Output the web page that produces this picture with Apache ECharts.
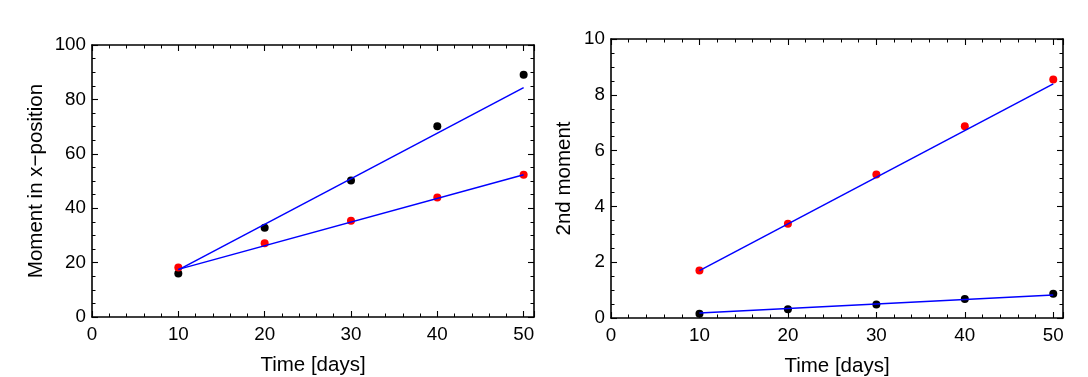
<!DOCTYPE html>
<html>
<head>
<meta charset="utf-8">
<script src="https://cdn.jsdelivr.net/npm/echarts@6/dist/echarts.min.js"></script>
<style>
html,body{margin:0;padding:0;background:#fff;}
#chart{width:1088px;height:377px;}
</style>
</head>
<body>
<div id="chart"></div>
<script>
// ---- data ----
const times = [10, 20, 30, 40, 50];
// Left panel: moment in x-position
const leftBlack = [16.0, 32.8, 50.2, 70.1, 89.1];
const leftRed = [18.2, 27.1, 35.4, 43.9, 52.3];
const fitX = [10, 50];
const leftBlackFit = [17.3, 84.3];
const leftRedFit = [17.5, 52.3];
// Right panel: 2nd moment
const rightRed = [1.70, 3.38, 5.14, 6.87, 8.55];
const rightBlack = [0.15, 0.31, 0.48, 0.68, 0.87];
const rightRedFit = [1.70, 8.39];
const rightBlackFit = [0.18, 0.82];
// axis labels
const xTitle = 'Time [days]';
const leftYTitle = 'Moment in x\u2212position';
const rightYTitle = '2nd moment';

const FONT = "'Liberation Sans', Arial, Helvetica, sans-serif";
const chart = echarts.init(document.getElementById('chart'), null, {renderer: 'canvas'});

const xAxes = [], yAxes = [];
function addAxes(list, grid, pos, min, max, major, minor, labelled, name, nameGap) {
  const lineStyle = {color: '#000', width: 1.6};
  const base = {type: 'value', gridIndex: grid, position: pos, min: min, max: max,
    splitLine: {show: false}, axisPointer: {show: false}};
  const majIdx = list.length;
  list.push(Object.assign({}, base, {
    interval: major,
    axisLine: {show: true, onZero: false, lineStyle: lineStyle},
    axisTick: {show: true, inside: true, length: 6, lineStyle: {color: '#000', width: 1.1}},
    axisLabel: {show: !!labelled, margin: labelled === 'x' ? 8 : 6, color: '#000', fontSize: 18.8, fontFamily: FONT,
      formatter: function (v) { return Math.abs(v / major - Math.round(v / major)) < 1e-6 ? String(Math.round(v * 1000) / 1000) : ''; }},
    name: name || '', nameLocation: 'middle', nameGap: nameGap || 0,
    nameTextStyle: {color: '#000', fontSize: 20.5, fontFamily: FONT}
  }));
  list.push(Object.assign({}, base, {
    interval: minor,
    axisLine: {show: false, onZero: false},
    axisTick: {show: true, inside: true, length: 3.5, lineStyle: {color: '#000', width: 1}},
    axisLabel: {show: false}
  }));
  return majIdx;
}

// grid 0 (left)
const gx0 = addAxes(xAxes, 0, 'bottom', 0, 51.2, 10, 2, 'x', xTitle, 38);
addAxes(xAxes, 0, 'top', 0, 51.2, 10, 2, false);
const gy0 = addAxes(yAxes, 0, 'left', 0, 100, 20, 5, 'y', leftYTitle, 45);
addAxes(yAxes, 0, 'right', 0, 100, 20, 5, false);
// grid 1 (right)
const gx1 = addAxes(xAxes, 1, 'bottom', 0, 51.1, 10, 2, 'x', xTitle, 38);
addAxes(xAxes, 1, 'top', 0, 51.1, 10, 2, false);
const gy1 = addAxes(yAxes, 1, 'left', 0, 10, 2, 0.5, 'y', rightYTitle, 36);
addAxes(yAxes, 1, 'right', 0, 10, 2, 0.5, false);

function pts(xs, ys) { return xs.map((x, i) => [x, ys[i]]); }
function fitLine(xi, yi, ys) {
  return {type: 'line', xAxisIndex: xi, yAxisIndex: yi, data: pts(fitX, ys), showSymbol: false,
    symbol: 'none', lineStyle: {color: '#0000ff', width: 1.5}, z: 3, silent: true};
}
function dots(xi, yi, ys, color) {
  return {type: 'scatter', xAxisIndex: xi, yAxisIndex: yi, data: pts(times, ys), symbolSize: 8,
    itemStyle: {color: color, opacity: 1}, z: 2, silent: true};
}

chart.setOption({
  animation: false,
  backgroundColor: '#fff',
  grid: [
    {left: 92, top: 45, width: 442, height: 272, containLabel: false, outerBoundsMode: 'none'},
    {left: 611, top: 39, width: 452, height: 279, containLabel: false, outerBoundsMode: 'none'}
  ],
  xAxis: xAxes,
  yAxis: yAxes,
  series: [
    dots(gx0, gy0, leftBlack, '#000'),
    dots(gx0, gy0, leftRed, '#ff0000'),
    fitLine(gx0, gy0, leftBlackFit),
    fitLine(gx0, gy0, leftRedFit),
    dots(gx1, gy1, rightRed, '#ff0000'),
    dots(gx1, gy1, rightBlack, '#000'),
    fitLine(gx1, gy1, rightRedFit),
    fitLine(gx1, gy1, rightBlackFit)
  ]
});
</script>
</body>
</html>
